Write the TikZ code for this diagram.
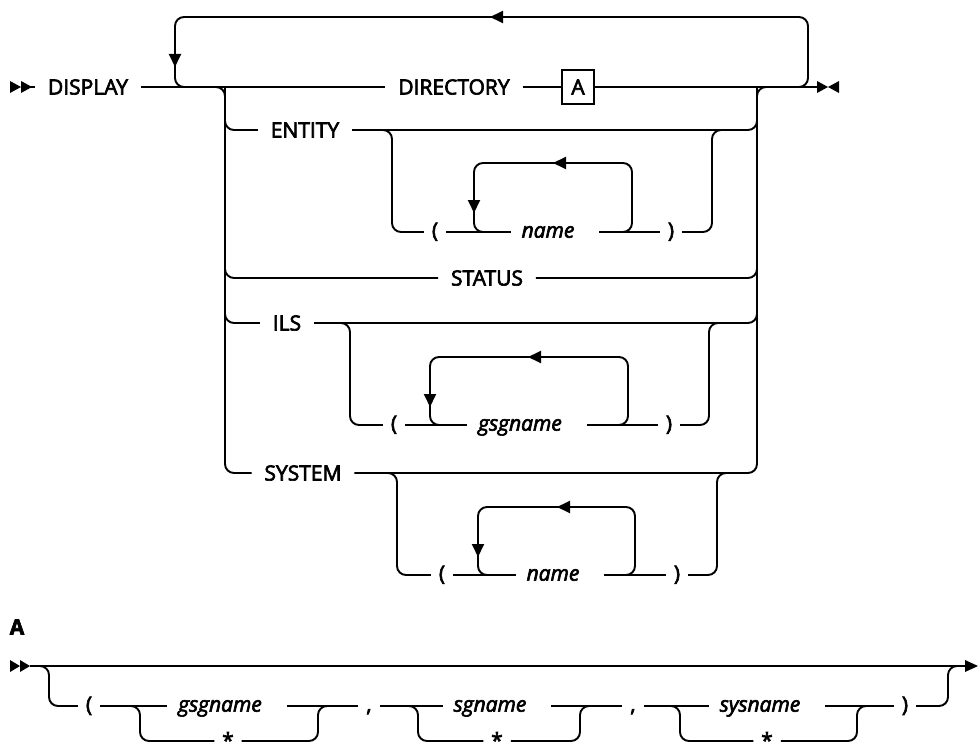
\documentclass[tikz,border=0pt]{standalone}
\usepackage{fontspec}
\setmainfont{Open Sans}
\newfontfamily\railfont{Open Sans}[FakeBold=3]
\usetikzlibrary{arrows.meta}

\tikzset{
	rail/.style={rounded corners=9pt},
	kw/.style={font=\railfont\fontsize{21}{25}\selectfont, inner xsep=12pt, inner ysep=0pt,
		text height=15pt, text depth=0pt},
	var/.style={kw, font=\railfont\fontsize{21}{25}\selectfont\itshape, inner xsep=10pt, text height=11.2pt},
	punct/.style={kw, inner xsep=7pt, text height=11.2pt},
	starmark/.style={punct, text height=14pt},
	refbox/.style={kw, draw, line width=1.5pt, inner xsep=0pt, minimum width=32pt, minimum height=34pt},
	tip/.style={-{Triangle[length=13pt,width=12pt]}}
}

\begin{document}
\begin{tikzpicture}[x=1pt, y=-1pt, line width=1.9pt]
	\useasboundingbox (0,0) rectangle (979,754);

	% main statement
	\node[kw] (display) at (88,87) {DISPLAY};
	\node[kw] (directory) at (454,87) {DIRECTORY};
	\node[refbox] (frag) at (578,87) {A};
	\node[kw] (entity) at (305,130) {ENTITY};
	\node[kw] (status) at (487,278) {STATUS};
	\node[kw] (ils) at (287,323) {ILS};
	\node[kw] (system) at (303,473) {SYSTEM};
	\node[punct] (lpE) at (435,232) {(};
	\node[var] (nameE) at (548,232) {name};
	\node[punct] (rpE) at (671,232) {)};
	\node[punct] (lpI) at (394,425) {(};
	\node[var] (gsgI) at (520,425) {gsgname};
	\node[punct] (rpI) at (669,425) {)};
	\node[punct] (lpS) at (442,575) {(};
	\node[var] (nameS) at (553,575) {name};
	\node[punct] (rpS) at (677,575) {)};

	\coordinate (inL) at (225,87);
	\coordinate (inR) at (757,87);
	\coordinate (eL) at (392,130);
	\coordinate (eR) at (712,130);
	\coordinate (iL) at (350,323);
	\coordinate (iR) at (709,323);
	\coordinate (sL) at (397,473);
	\coordinate (sR) at (717,473);

	\fill (10,81) -- (21,87) -- (10,93) -- cycle;
	\fill (21,81) -- (32,87) -- (21,93) -- cycle;
	\draw (30,87) -- (display.west);
	\draw (display.east) -- (directory.west);
	\draw (directory.east) -- (frag.west);
	\draw (frag.east) -- (817,87);
	\fill (817,81) -- (828,87) -- (817,93) -- cycle;
	\fill (839,81) -- (828,87) -- (839,93) -- cycle;

	% repeat loop over the choices
	\draw[rail] (790,87) -| (808,17) -| (175,87) -- (195,87);
	\draw[tip] (505,17) -- (490,17);
	\draw[tip] (175,54) -- (175,67);

	% choices
	\draw[rail] ([xshift=-20pt]inL) -- (inL) |- (system.west);
	\draw[rail] (inL) |- (entity.west);
	\draw[rail] (inL) |- (status.west);
	\draw[rail] (inL) |- (ils.west);
	\draw[rail] (entity.east) -| (inR);
	\draw[rail] (status.east) -| (inR);
	\draw[rail] (ils.east) -| (inR);
	\draw[rail] (system.east) -| (inR) -- ([xshift=20pt]inR);

	% ENTITY ( name )
	\draw[rail] ([xshift=-20pt]eL) -- (eL) |- (lpE.west);
	\draw (lpE.east) -- (nameE.west);
	\draw ([xshift=14pt]nameE.east) -- (rpE.west);
	\draw[rail] (rpE.east) -| (eR) -- ([xshift=20pt]eR);
	\draw[rail] (615,232) -| (632,163) -| (474,232) -- (490,232);
	\draw[tip] (566,163) -- (553,163);
	\draw[tip] (474,200) -- (474,213);

	% ILS ( gsgname )
	\draw[rail] ([xshift=-20pt]iL) -- (iL) |- (lpI.west);
	\draw (lpI.east) -- (gsgI.west);
	\draw ([xshift=14pt]gsgI.east) -- (rpI.west);
	\draw[rail] (rpI.east) -| (iR) -- ([xshift=20pt]iR);
	\draw[rail] (612,425) -| (628,357) -| (430,425) -- (446,425);
	\draw[tip] (541,357) -- (528,357);
	\draw[tip] (430,394) -- (430,407);

	% SYSTEM ( name )
	\draw[rail] ([xshift=-20pt]sL) -- (sL) |- (lpS.west);
	\draw (lpS.east) -- (nameS.west);
	\draw ([xshift=14pt]nameS.east) -- (rpS.west);
	\draw[rail] (rpS.east) -| (sR) -- ([xshift=20pt]sR);
	\draw[rail] (619,575) -| (635,507) -| (478,575) -- (494,575);
	\draw[tip] (570,507) -- (557,507);
	\draw[tip] (478,544) -- (478,557);

	% fragment A
	\node[kw, font=\railfont\fontsize{21}{25}\selectfont\bfseries, inner xsep=0pt] (labelA) at (17,627) {A};
	\node[punct] (lpA) at (89,706) {(};
	\node[var] (gsgA) at (220,706) {gsgname};
	\node[starmark] (starA) at (228,741) {*};
	\node[punct] (commaA) at (369,706) {,};
	\node[var] (sgB) at (490,706) {sgname};
	\node[starmark] (starB) at (497,741) {*};
	\node[punct] (commaB) at (633,706) {,};
	\node[var] (sysC) at (760,706) {sysname};
	\node[starmark] (starC) at (767,741) {*};
	\node[punct] (rpA) at (905,706) {)};

	\coordinate (aIn) at (49,666);
	\coordinate (aOut) at (948,666);

	\fill (10,660) -- (20,666) -- (10,672) -- cycle;
	\fill (20,660) -- (30,666) -- (20,672) -- cycle;
	\draw (30,666) -- (965,666);
	\fill (965,660) -- (978,666) -- (965,672) -- cycle;
	\draw[rail] (36,666) -- (aIn) |- (lpA.west);
	\draw[rail] (rpA.east) -| (aOut) -- (960,666);

	\draw (lpA.east) -- (gsgA.west);
	\draw[rail] (125,706) -| (140,741) -- (starA.west);
	\draw[rail] (starA.east) -| (318,706) -- (333,706);
	\draw ([xshift=14pt]gsgA.east) -- (commaA.west);

	\draw (commaA.east) -- (sgB.west);
	\draw[rail] (404,706) -| (418,741) -- (starB.west);
	\draw[rail] (starB.east) -| (580,706) -- (595,706);
	\draw ([xshift=14pt]sgB.east) -- (commaB.west);

	\draw (commaB.east) -- (sysC.west);
	\draw[rail] (666,706) -| (680,741) -- (starC.west);
	\draw[rail] (starC.east) -| (857,706) -- (872,706);
	\draw ([xshift=14pt]sysC.east) -- (rpA.west);
\end{tikzpicture}
\end{document}
